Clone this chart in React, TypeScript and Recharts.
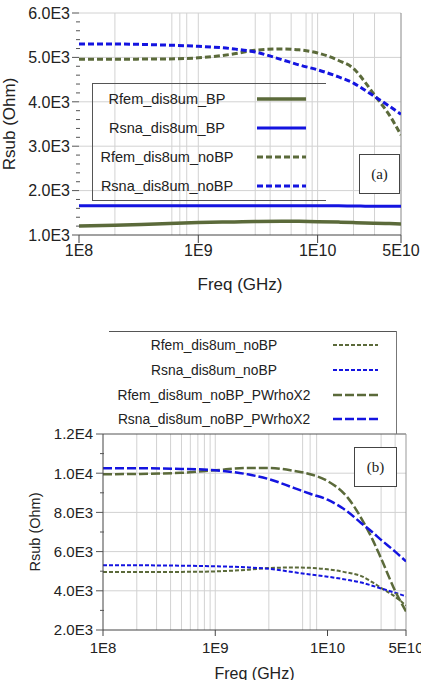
import React from "react";
import {
  LineChart,
  Line,
  XAxis,
  YAxis,
  CartesianGrid,
  ReferenceLine,
  Legend,
} from "recharts";

const OLIVE = "#5b6a3a";
const BLUE = "#1414e0";
const FONT = "'Liberation Sans', Arial, sans-serif";

// frequency sweep (Hz) shared by every series
const freqs = [1e8, 2e8, 5e8, 1e9, 2e9, 3e9, 5e9, 7e9, 1e10, 1.5e10, 2e10, 2.5e10, 3e10, 4e10, 5e10];

const rfemBP = [1200, 1220, 1255, 1280, 1295, 1305, 1310, 1308, 1300, 1290, 1280, 1272, 1265, 1258, 1250];
const rsnaBP = [1660, 1660, 1660, 1660, 1660, 1660, 1660, 1660, 1660, 1658, 1652, 1650, 1648, 1645, 1645];
const rfemNoBP = [4960, 4960, 4965, 4990, 5080, 5160, 5190, 5170, 5100, 4930, 4750, 4440, 4150, 3700, 3250];
const rsnaNoBP = [5300, 5300, 5280, 5250, 5190, 5120, 4950, 4830, 4720, 4560, 4420, 4260, 4120, 3900, 3720];
const rfemX2 = [9950, 9960, 10020, 10150, 10270, 10270, 10120, 9950, 9600, 8780, 7700, 6650, 5650, 4000, 2950];
const rsnaX2 = [10250, 10250, 10220, 10150, 9930, 9700, 9250, 8950, 8650, 8050, 7450, 7000, 6600, 6000, 5500];

const xTicks = [1e8, 1e9, 1e10, 5e10];
const yTicksA = [
  1000, 1200, 1400, 1600, 1800, 2000, 2200, 2400, 2600, 2800, 3000, 3200, 3400,
  3600, 3800, 4000, 4200, 4400, 4600, 4800, 5000, 5200, 5400, 5600, 5800, 6000,
];
const yMajorA = [1000, 2000, 3000, 4000, 5000, 6000];
const yTicksB = [2000, 3000, 4000, 5000, 6000, 7000, 8000, 9000, 10000, 11000, 12000];
const yMajorB = [2000, 4000, 6000, 8000, 10000, 12000];

const gridXA = [2e8, 6e8, 7e8, 8e8, 1e9, 3e9, 4e9, 6e9, 8e9, 9e9, 1e10, 2e10, 3e10];
const gridYA = [2000, 3000, 4000, 5000, 6000];
const gridXB = [2e8, 3e8, 4e8, 5e8, 6e8, 7e8, 8e8, 9e8, 1e9, 3e9, 6e9, 7e9, 8e9, 3e10, 4e10];
const gridYB = [4000, 6000, 8000, 10000];

// legend order as printed in each panel
const legendOrderA = ["rfemBP", "rsnaBP", "rfemNoBP", "rsnaNoBP"];
const legendOrderB = ["rfemNoBP", "rsnaNoBP", "rfemX2", "rsnaX2"];

const rows = freqs.map((f, i) => ({
  f,
  rfemBP: rfemBP[i],
  rsnaBP: rsnaBP[i],
  rfemNoBP: rfemNoBP[i],
  rsnaNoBP: rsnaNoBP[i],
  rfemX2: rfemX2[i],
  rsnaX2: rsnaX2[i],
}));

function expOf(v: number) {
  return Math.floor(Math.log10(v) + 1e-9);
}
function fmtX(v: number) {
  const e = expOf(v);
  return `${Math.round(v / 10 ** e)}E${e}`;
}
function fmtY(v: number) {
  const e = expOf(v);
  return `${(v / 10 ** e).toFixed(1)}E${e}`;
}

function YTick(props: any) {
  const { x, y, payload, major, gap, fontSize } = props;
  const isMajor = major.includes(payload.value);
  const ax = x + gap;
  return (
    <g>
      <line
        x1={isMajor ? ax - 7 : ax - 3}
        x2={isMajor ? ax : ax + 1}
        y1={y}
        y2={y}
        stroke="#555"
        strokeWidth={1}
      />
      {isMajor && (
        <text
          x={x}
          y={y}
          dy="0.36em"
          textAnchor="end"
          fontSize={fontSize}
          fontFamily={FONT}
          fill="#222"
        >
          {fmtY(payload.value)}
        </text>
      )}
    </g>
  );
}

function LegendBox(props: any) {
  const { payload = [], order, w, h, rowY, textX, lineX1, lineX2, fontSize, frame } = props;
  const items = [...payload].sort(
    (a: any, b: any) => order.indexOf(a.dataKey) - order.indexOf(b.dataKey)
  );
  return (
    <svg width={w} height={h} style={{ display: "block", overflow: "visible" }}>
      {frame.includes("top") && <line x1={0} x2={w} y1={0.5} y2={0.5} stroke="#555" />}
      {frame.includes("bottom") && <line x1={0} x2={w} y1={h - 0.5} y2={h - 0.5} stroke="#555" />}
      {frame.includes("left") && <line x1={0.5} x2={0.5} y1={0} y2={h} stroke="#555" />}
      {frame.includes("right") && <line x1={w - 0.5} x2={w - 0.5} y1={0} y2={h} stroke="#777" />}
      {items.map((entry: any, i: number) => (
        <g key={entry.value}>
          <text
            x={textX}
            y={rowY[i]}
            dy="0.36em"
            textAnchor="middle"
            fontSize={fontSize}
            fontFamily={FONT}
            fill="#222"
          >
            {entry.value}
          </text>
          <line
            x1={lineX1}
            x2={lineX2}
            y1={rowY[i]}
            y2={rowY[i]}
            stroke={entry.color}
            strokeWidth={entry.payload?.strokeWidth ?? 2}
            strokeDasharray={entry.payload?.strokeDasharray}
          />
        </g>
      ))}
    </svg>
  );
}

function TagBox({ left, top, width, height, text }: any) {
  return (
    <div
      style={{
        position: "absolute",
        left,
        top,
        width,
        height,
        boxSizing: "border-box",
        border: "1px solid #444",
        background: "#fff",
        display: "flex",
        alignItems: "center",
        justifyContent: "center",
        fontFamily: "'Liberation Serif', 'Times New Roman', serif",
        fontSize: 15,
        color: "#222",
      }}
    >
      {text}
    </div>
  );
}

function ChartA() {
  return (
    <LineChart
      width={421}
      height={300}
      data={rows}
      margin={{ top: 13, right: 20, bottom: 0, left: 0 }}
    >
      <CartesianGrid stroke="#d2d2d2" horizontalValues={gridYA} verticalValues={gridXA} />
      <XAxis
        dataKey="f"
        type="number"
        scale="log"
        domain={[1e8, 5e10]}
        allowDataOverflow
        ticks={xTicks}
        interval={0}
        tickFormatter={fmtX}
        height={65}
        tickSize={8}
        tickMargin={2}
        stroke="#444"
        tick={{ fontSize: 16, fill: "#222", fontFamily: FONT }}
        label={{
          value: "Freq (GHz)",
          position: "insideBottom",
          offset: 10,
          style: { fontSize: 17, fill: "#222", fontFamily: FONT },
        }}
      />
      <YAxis
        type="number"
        domain={[1000, 6000]}
        ticks={yTicksA}
        interval={0}
        width={79}
        axisLine={false}
        tickLine={false}
        tickSize={7}
        tickMargin={2}
        tick={(p: any) => <YTick {...p} major={yMajorA} gap={9} fontSize={16} />}
        label={{
          value: "Rsub (Ohm)",
          angle: -90,
          position: "insideLeft",
          offset: 9,
          style: { textAnchor: "middle", fontSize: 17, fill: "#222", fontFamily: FONT },
        }}
      />
      <ReferenceLine x={5e10} stroke="#888" />
      <Legend
        layout="vertical"
        align="center"
        verticalAlign="middle"
        wrapperStyle={{ left: 92, top: 83, width: 234, height: 118 }}
        content={(p: any) => (
          <LegendBox
            {...p}
            order={legendOrderA}
            w={234}
            h={118}
            rowY={[16, 45, 74, 103]}
            textX={75}
            lineX1={165}
            lineX2={214}
            fontSize={14.5}
            frame={["top", "bottom", "left"]}
          />
        )}
      />
      <Line dataKey="rfemBP" name="Rfem_dis8um_BP" type="monotone" stroke={OLIVE} strokeWidth={3.5} dot={false} isAnimationActive={false} />
      <Line dataKey="rsnaBP" name="Rsna_dis8um_BP" type="monotone" stroke={BLUE} strokeWidth={3} dot={false} isAnimationActive={false} />
      <Line dataKey="rfemNoBP" name="Rfem_dis8um_noBP" type="monotone" stroke={OLIVE} strokeWidth={3} strokeDasharray="6 3" dot={false} isAnimationActive={false} />
      <Line dataKey="rsnaNoBP" name="Rsna_dis8um_noBP" type="monotone" stroke={BLUE} strokeWidth={3} strokeDasharray="6 3" dot={false} isAnimationActive={false} />
    </LineChart>
  );
}

function ChartB() {
  return (
    <LineChart
      width={421}
      height={380}
      data={rows}
      margin={{ top: 134, right: 15, bottom: 0, left: 0 }}
    >
      <CartesianGrid stroke="#d2d2d2" horizontalValues={gridYB} verticalValues={gridXB} />
      <XAxis
        dataKey="f"
        type="number"
        scale="log"
        domain={[1e8, 5e10]}
        allowDataOverflow
        ticks={xTicks}
        interval={0}
        tickFormatter={fmtX}
        height={50}
        tickSize={6}
        tickMargin={6}
        stroke="#444"
        tick={{ fontSize: 15, fill: "#222", fontFamily: FONT }}
        label={{
          value: "Freq (GHz)",
          position: "insideBottom",
          offset: 1,
          style: { fontSize: 16, fill: "#222", fontFamily: FONT },
        }}
      />
      <YAxis
        type="number"
        domain={[2000, 12000]}
        ticks={yTicksB}
        interval={0}
        width={103}
        stroke="#444"
        tickLine={false}
        tickSize={7}
        tickMargin={3}
        tick={(p: any) => <YTick {...p} major={yMajorB} gap={10} fontSize={15} />}
        label={{
          value: "Rsub (Ohm)",
          angle: -90,
          position: "insideLeft",
          offset: 35,
          style: { textAnchor: "middle", fontSize: 14.5, fill: "#222", fontFamily: FONT },
        }}
      />
      <ReferenceLine y={12000} stroke="#555" />
      <ReferenceLine x={5e10} stroke="#999" />
      <Legend
        layout="vertical"
        align="center"
        verticalAlign="middle"
        wrapperStyle={{ left: 109, top: 31, width: 288, height: 103 }}
        content={(p: any) => (
          <LegendBox
            {...p}
            order={legendOrderB}
            w={288}
            h={103}
            rowY={[14, 39, 64, 88]}
            textX={105}
            lineX1={224}
            lineX2={269}
            fontSize={13.8}
            frame={["top", "right"]}
          />
        )}
      />
      <Line dataKey="rfemNoBP" name="Rfem_dis8um_noBP" type="monotone" stroke={OLIVE} strokeWidth={2} strokeDasharray="4 2" dot={false} isAnimationActive={false} />
      <Line dataKey="rsnaNoBP" name="Rsna_dis8um_noBP" type="monotone" stroke={BLUE} strokeWidth={2} strokeDasharray="4 2" dot={false} isAnimationActive={false} />
      <Line dataKey="rfemX2" name="Rfem_dis8um_noBP_PWrhoX2" type="monotone" stroke={OLIVE} strokeWidth={2.5} strokeDasharray="9 3" dot={false} isAnimationActive={false} />
      <Line dataKey="rsnaX2" name="Rsna_dis8um_noBP_PWrhoX2" type="monotone" stroke={BLUE} strokeWidth={2.5} strokeDasharray="9 3" dot={false} isAnimationActive={false} />
    </LineChart>
  );
}

export default function App() {
  return (
    <div
      style={{
        position: "absolute",
        left: 0,
        top: 0,
        width: 421,
        height: 680,
        overflow: "hidden",
        background: "#fff",
        fontFamily: FONT,
      }}
    >
      <div style={{ position: "absolute", left: 0, top: 0, width: 421, height: 300 }}>
        <ChartA />
        <TagBox left={359} top={154} width={41} height={40} text="(a)" />
      </div>
      <div style={{ position: "absolute", left: 0, top: 300, width: 421, height: 380 }}>
        <ChartB />
        <TagBox left={354} top={147} width={43} height={40} text="(b)" />
      </div>
    </div>
  );
}
